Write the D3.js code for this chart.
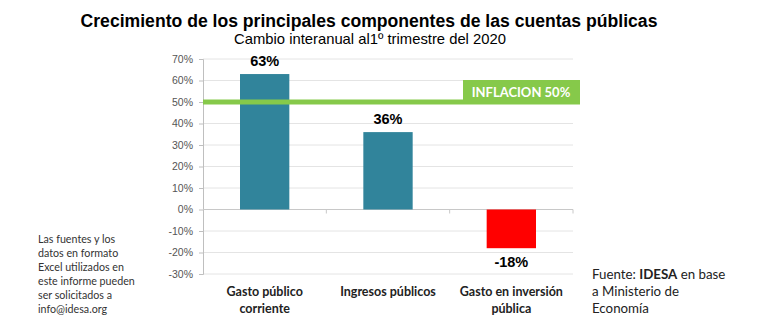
<!DOCTYPE html>
<html lang="es">
<head>
  <meta charset="utf-8">
  <script src="https://d3js.org/d3.v7.min.js"></script>
  <style>
    body { margin: 0; background: #fff; }
    svg text { font-family: "Liberation Sans", Arial, sans-serif; }
    .cal { font-family: Lato, "Open Sans", sans-serif !important; }
  </style>
</head>
<body>
  <script type="text/javascript">
    // data
    var categories = [["Gasto público", "corriente"], ["Ingresos públicos"], ["Gasto en inversión", "pública"]];
    var values = [63, 36, -18];
    var barColors = ["#31849b", "#31849b", "#ff0000"];
    var yTicks = [-30, -20, -10, 0, 10, 20, 30, 40, 50, 60, 70];
    var inflation = 50;
    var noteLeft = ["Las fuentes y los", "datos en formato", "Excel utilizados en", "este informe pueden", "ser solicitados a", "info@idesa.org"];

    // dimensions
    var dim = {
      "width": 768,
      "height": 323,
      "left": 203,
      "right": 573,
      "top": 59,
      "bottom": 274
    };

    var svg = d3.select("body")
      .append("svg")
      .attr("width", dim.width)
      .attr("height", dim.height);

    // scales
    var yScale = d3.scaleLinear()
      .domain([-30, 70])
      .range([dim.bottom, dim.top]);

    var xScale = d3.scaleBand()
      .domain(d3.range(values.length))
      .range([dim.left, dim.right])
      .paddingInner(0.6)
      .paddingOuter(0.3);

    // grid lines
    svg.selectAll(".grid")
      .data(yTicks)
      .enter()
      .append("line")
      .attr("x1", dim.left)
      .attr("x2", dim.right)
      .attr("y1", d => yScale(d))
      .attr("y2", d => yScale(d))
      .attr("stroke", "#e4e4e4")
      .attr("stroke-width", 1);

    // y axis
    var yAxis = d3.axisLeft(yScale)
      .tickValues(yTicks)
      .tickSize(4)
      .tickFormat(d => d + "%");

    var gy = svg.append("g")
      .attr("transform", "translate(" + dim.left + ",0)")
      .call(yAxis);
    gy.select(".domain").attr("stroke", "#bfbfbf");
    gy.selectAll(".tick line").attr("stroke", "#bfbfbf");
    gy.selectAll("text")
      .attr("x", -10)
      .style("font-size", "10.5px")
      .attr("fill", "#555");

    // category axis at zero with separators
    var bandStep = xScale.step();
    svg.append("line")
      .attr("x1", dim.left)
      .attr("x2", dim.right)
      .attr("y1", yScale(0))
      .attr("y2", yScale(0))
      .attr("stroke", "#c8c8c8");
    svg.selectAll(".sep")
      .data(d3.range(1, values.length + 1))
      .enter()
      .append("line")
      .attr("x1", d => dim.left + d * bandStep)
      .attr("x2", d => dim.left + d * bandStep)
      .attr("y1", yScale(0))
      .attr("y2", yScale(0) + 4)
      .attr("stroke", "#c8c8c8");

    // bars
    svg.selectAll(".bar")
      .data(values)
      .enter()
      .append("rect")
      .attr("x", (d, i) => xScale(i))
      .attr("width", xScale.bandwidth())
      .attr("y", d => yScale(Math.max(0, d)))
      .attr("height", d => Math.abs(yScale(d) - yScale(0)))
      .attr("fill", (d, i) => barColors[i]);

    // value labels
    svg.selectAll(".val")
      .data(values)
      .enter()
      .append("text")
      .attr("x", (d, i) => xScale(i) + xScale.bandwidth() / 2)
      .attr("y", d => d >= 0 ? yScale(d) - 8 : yScale(d) + 19)
      .attr("text-anchor", "middle")
      .style("font-size", "14.5px")
      .style("font-weight", "bold")
      .text(d => d + "%");

    // inflation line and box
    svg.append("line")
      .attr("x1", dim.left)
      .attr("x2", 580)
      .attr("y1", yScale(inflation))
      .attr("y2", yScale(inflation))
      .attr("stroke", "#86c94a")
      .attr("stroke-width", 5);
    svg.append("rect")
      .attr("x", 463)
      .attr("y", 80)
      .attr("width", 117)
      .attr("height", 23)
      .attr("fill", "#86c94a");
    svg.append("text")
      .attr("class", "cal")
      .attr("x", 521)
      .attr("y", 97)
      .attr("text-anchor", "middle")
      .attr("fill", "#fff")
      .style("font-size", "13px")
      .style("font-weight", "bold")
      .text("INFLACION " + inflation + "%");

    // category labels
    categories.forEach(function(lines, i) {
      var t = svg.append("text")
        .attr("class", "cal")
        .attr("text-anchor", "middle")
        .style("font-size", "12.5px")
        .style("font-weight", "bold")
        .attr("fill", "#222");
      lines.forEach(function(l, j) {
        t.append("tspan")
          .attr("x", xScale(i) + xScale.bandwidth() / 2)
          .attr("y", 296 + j * 17)
          .text(l);
      });
    });

    // title
    svg.append("text")
      .attr("x", 369)
      .attr("y", 27)
      .attr("text-anchor", "middle")
      .style("font-size", "17.6px")
      .style("font-weight", "bold")
      .text("Crecimiento de los principales componentes de las cuentas públicas");

    svg.append("text")
      .attr("x", 370)
      .attr("y", 44)
      .attr("text-anchor", "middle")
      .style("font-size", "14.8px")
      .text("Cambio interanual al1º trimestre del 2020");

    // left note
    svg.selectAll(".note")
      .data(noteLeft)
      .enter()
      .append("text")
      .attr("class", "cal")
      .attr("x", 38)
      .attr("y", (d, i) => 243 + i * 14)
      .attr("fill", "#333")
      .style("font-size", "10.7px")
      .text(d => d);

    // right source
    var src = svg.append("text")
      .attr("class", "cal")
      .attr("fill", "#222")
      .style("font-size", "13.3px");
    src.append("tspan").attr("x", 592).attr("y", 279).text("Fuente: ");
    src.append("tspan").style("font-weight", "bold").text("IDESA");
    src.append("tspan").text(" en base");
    src.append("tspan").attr("x", 592).attr("y", 296).text("a Ministerio de");
    src.append("tspan").attr("x", 592).attr("y", 313).text("Economía");
  </script>
</body>
</html>
